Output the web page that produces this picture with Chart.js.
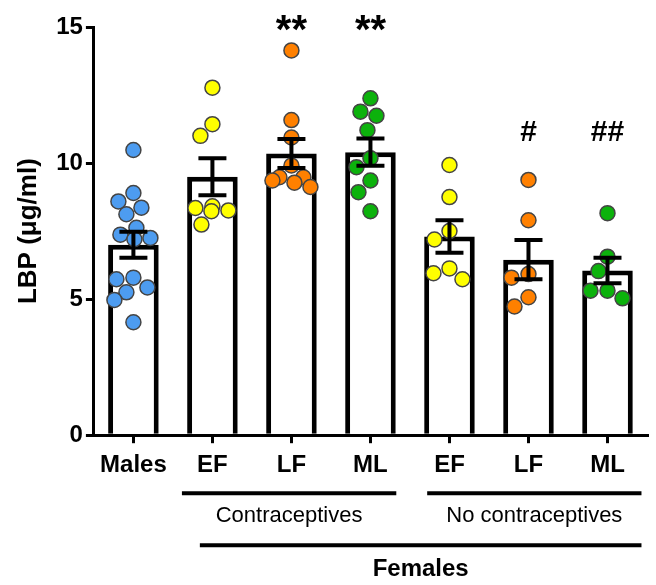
<!DOCTYPE html>
<html>
<head>
<meta charset="utf-8">
<title>LBP</title>
<script src="https://cdn.jsdelivr.net/npm/chart.js@4.4.1/dist/chart.umd.min.js"></script>
<style>
    html, body { margin: 0; padding: 0; background: #fff; }
    canvas { display: block; }
</style>
</head>
<body>
<canvas id="lbpChart" width="656" height="585"></canvas>
<script>
const categories = ['Males', 'EF', 'LF', 'ML', 'EF', 'LF', 'ML'];

// Individual LBP values (µg/ml) per group
const males = [10.48, 8.90, 8.59, 8.36, 8.12, 7.62, 7.37, 7.25, 7.20, 5.79, 5.73, 5.43, 5.25, 4.97, 4.15];
const contraEF = [12.77, 11.43, 11.00, 8.41, 8.35, 8.26, 8.23, 7.74];
const contraLF = [14.14, 11.58, 10.94, 9.91, 9.48, 9.48, 9.36, 9.28, 9.12];
const contraML = [12.38, 11.89, 11.74, 11.21, 10.18, 9.85, 9.36, 8.93, 8.23];
const noContraEF = [9.93, 8.75, 7.50, 7.19, 6.13, 5.95, 5.73];
const noContraLF = [9.38, 7.90, 5.92, 5.79, 5.07, 4.73];
const noContraML = [8.16, 6.56, 6.03, 5.31, 5.31, 5.03];

// Mean and SEM per group
const groupMeans = [7.0, 9.5, 10.35, 10.4, 7.3, 6.45, 6.05];
const groupSems = [0.48, 0.68, 0.53, 0.5, 0.6, 0.72, 0.47];

const sigMarks = ['', '', '**', '**', '', '#', '##'];

const groups = [males, contraEF, contraLF, contraML, noContraEF, noContraLF, noContraML];
const dotColors = ['#4d9cf0', '#ffff00', '#ff8000', '#0cb20c', '#ffff00', '#ff8000', '#0cb20c'];

const FONT = "'Liberation Sans', Arial, sans-serif";
const DOT_R = 7.5;
const DOT_BW = 1.5;

Chart.defaults.font.family = FONT;
Chart.defaults.color = '#000';

// Spread the dots of one column sideways so they don't pile up (beeswarm)
function swarmOffsets(values, xScale, yScale) {
    const unit = xScale.getPixelForValue(1) - xScale.getPixelForValue(0);
    const diam = 2 * DOT_R + DOT_BW;
    const maxOff = Math.round(unit * 0.24);
    const order = values.map((v, i) => i).sort((a, b) => values[b] - values[a]);
    const placed = [];
    const offs = new Array(values.length).fill(0);

    order.forEach(i => {
        const py = yScale.getPixelForValue(values[i]);
        let best = null;
        for (let s = 0; s <= maxOff; s++) {
            const cands = s === 0 ? [0] : [-s, s];
            cands.forEach(x => {
                let pen = 0;
                placed.forEach(p => {
                    const dist = Math.hypot(x - p.x, py - p.y);
                    if (dist < diam) pen += diam - dist;
                });
                if (!best || pen < best.pen - 1e-6) best = { x: x, pen: pen };
            });
        }
        placed.push({ x: best.x, y: py });
        offs[i] = best.x / unit;
    });
    return offs;
}

const errorBars = {
    id: 'errorBars',
    afterDatasetsDraw(chart) {
        const { ctx } = chart;
        const xs = chart.scales.xs;
        const y = chart.scales.y;
        const cap = 14;
        ctx.save();
        ctx.strokeStyle = '#000';
        ctx.lineWidth = 4;
        groupMeans.forEach((m, i) => {
            const x = xs.getPixelForValue(i);
            const top = y.getPixelForValue(m + groupSems[i]);
            const bot = y.getPixelForValue(m - groupSems[i]);
            ctx.beginPath();
            ctx.moveTo(x, top);
            ctx.lineTo(x, bot);
            ctx.moveTo(x - cap, top);
            ctx.lineTo(x + cap, top);
            ctx.moveTo(x - cap, bot);
            ctx.lineTo(x + cap, bot);
            ctx.stroke();
        });
        ctx.restore();
    }
};

// Significance marks and the group brackets under the axis
const annotations = {
    id: 'annotations',
    afterDraw(chart) {
        const { ctx, chartArea } = chart;
        const xs = chart.scales.xs;
        const y = chart.scales.y;
        ctx.save();
        ctx.fillStyle = '#000';
        ctx.textAlign = 'center';
        ctx.textBaseline = 'alphabetic';

        sigMarks.forEach((mark, i) => {
            if (!mark) return;
            const x = xs.getPixelForValue(i);
            if (mark.startsWith('*')) {
                ctx.font = 'bold 40px ' + FONT;
                ctx.fillText(mark, x, y.getPixelForValue(14.4));
            } else {
                ctx.font = 'bold 30px ' + FONT;
                ctx.fillText(mark, x, y.getPixelForValue(10.8));
            }
        });

        const base = chartArea.bottom;
        const brackets = [
            { text: 'Contraceptives', from: 0.614, to: 3.327, dy: 58, bold: false },
            { text: 'No contraceptives', from: 3.718, to: 6.43, dy: 58, bold: false },
            { text: 'Females', from: 0.841, to: 6.43, dy: 110, bold: true }
        ];
        ctx.strokeStyle = '#000';
        ctx.lineWidth = 4;
        ctx.textBaseline = 'middle';
        brackets.forEach(b => {
            const x1 = xs.getPixelForValue(b.from);
            const x2 = xs.getPixelForValue(b.to);
            ctx.beginPath();
            ctx.moveTo(x1, base + b.dy);
            ctx.lineTo(x2, base + b.dy);
            ctx.stroke();
            ctx.font = (b.bold ? 'bold 24px ' : '22px ') + FONT;
            ctx.fillText(b.text, (x1 + x2) / 2, base + b.dy + (b.bold ? 24 : 23));
        });
        ctx.restore();
    }
};

const datasets = [{
    type: 'bar',
    data: groupMeans,
    xAxisID: 'x',
    backgroundColor: '#fff',
    borderColor: '#000',
    borderWidth: 5,
    grouped: false,
    barPercentage: 0.64,
    categoryPercentage: 1,
    order: 2
}];

groups.forEach((vals, i) => {
    datasets.push({
        type: 'scatter',
        data: vals.map(v => ({ x: i, y: v })),
        xAxisID: 'xs',
        backgroundColor: dotColors[i],
        borderColor: '#444',
        borderWidth: DOT_BW,
        pointRadius: DOT_R,
        pointHoverRadius: DOT_R,
        order: 1
    });
});

const chart = new Chart(document.getElementById('lbpChart'), {
    type: 'bar',
    data: { labels: categories, datasets: datasets },
    options: {
        responsive: false,
        devicePixelRatio: 1,
        animation: false,
        events: [],
        layout: { padding: { top: 27, left: 13, right: 8, bottom: 97 } },
        plugins: { legend: { display: false }, tooltip: { enabled: false } },
        scales: {
            x: {
                type: 'category',
                offset: true,
                grid: { offset: false, drawOnChartArea: false, drawTicks: true, tickLength: 8, lineWidth: 3, color: '#000' },
                border: { display: true, color: '#000', width: 3 },
                ticks: { font: { size: 24, weight: 'bold' }, padding: 8, color: '#000' }
            },
            xs: {
                type: 'linear',
                display: false,
                min: -0.5,
                max: 6.5,
                offset: false
            },
            y: {
                min: 0,
                max: 15,
                ticks: { stepSize: 5, font: { size: 24, weight: 'bold' }, padding: 3, color: '#000' },
                grid: { drawOnChartArea: false, drawTicks: true, tickLength: 8, lineWidth: 3, color: '#000' },
                border: { display: true, color: '#000', width: 3 },
                title: {
                    display: true,
                    text: 'LBP (μg/ml)',
                    font: { size: 26, weight: 'bold' },
                    padding: { top: 0, bottom: 9 },
                    color: '#000'
                }
            }
        }
    },
    plugins: [errorBars, annotations]
});

// Dot positions depend on the pixel scale, so lay them out once scales exist
groups.forEach((vals, i) => {
    const offs = swarmOffsets(vals, chart.scales.xs, chart.scales.y);
    chart.data.datasets[i + 1].data = vals.map((v, j) => ({ x: i + offs[j], y: v }));
});
chart.update('none');
</script>
</body>
</html>
